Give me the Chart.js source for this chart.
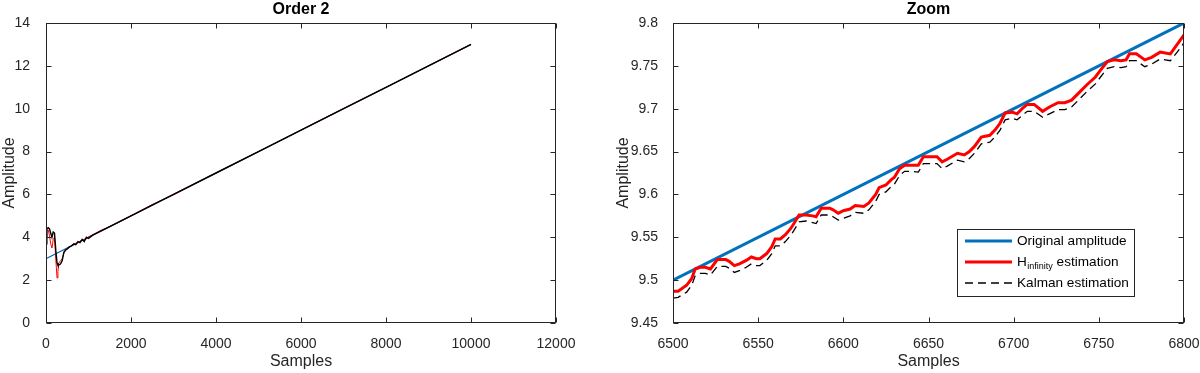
<!DOCTYPE html>
<html>
<head>
<meta charset="utf-8">
<script src="https://cdn.jsdelivr.net/npm/chart.js@4.4.1/dist/chart.umd.min.js"></script>
<style>
  html, body { margin: 0; padding: 0; background: #fff; }
  #wrap { position: relative; width: 1200px; height: 373px; }
  canvas { position: absolute; top: 0; }
</style>
</head>
<body>
<div id="wrap">
  <canvas id="left" width="600" height="373" style="left:0"></canvas>
  <canvas id="right" width="600" height="373" style="left:600px"></canvas>
</div>
<script>
// ---- data ----
const leftOrigSamples = [0, 10000];
const leftOrig = [3, 13];
const leftSamples = [0, 20, 50, 80, 110, 140, 170, 200, 230, 260, 280, 300, 340, 380, 420, 460, 500, 550, 600, 650,
  700, 750, 800, 850, 900, 950, 1000, 1100, 1300, 1500, 1800, 2000, 2500, 3000, 4000, 5000, 6000, 7000, 8000, 9000, 10000];
const leftHinf = [4.0, 4.3, 4.35, 4.1, 3.7, 3.5, 3.9, 4.0, 3.0, 2.1, 2.4, 2.8, 2.9, 3.0, 3.25, 3.4, 3.5, 3.52, 3.62, 3.7,
  3.72, 3.73, 3.82, 3.85, 3.9, 3.93, 4.02, 4.12, 4.33, 4.5, 4.78, 5.0, 5.53, 5.98, 7.0, 8.0, 9.0, 10.0, 11.0, 12.0, 13.0];
const leftKalman = [3.7, 4.4, 4.45, 4.4, 4.2, 4.0, 4.25, 4.2, 3.4, 2.8, 2.7, 2.7, 2.75, 2.9, 3.3, 3.4, 3.45, 3.55, 3.6, 3.68,
  3.65, 3.8, 3.75, 3.9, 3.8, 4.0, 3.95, 4.1, 4.3, 4.5, 4.8, 5.0, 5.5, 6.0, 7.0, 8.0, 9.0, 10.0, 11.0, 12.0, 13.0];

const zoomOrigSamples = [6500, 6800];
const zoomOrig = [9.5, 9.8];
const zoomSamples = [6500, 6503, 6508, 6511, 6513, 6516, 6519, 6522, 6526, 6531, 6533, 6536, 6539, 6543, 6546, 6549, 6551,
  6555, 6558, 6560, 6563, 6566, 6569, 6571, 6574, 6578, 6582, 6584, 6587, 6592, 6594, 6597, 6600, 6604, 6607, 6612, 6615,
  6619, 6621, 6625, 6628, 6630, 6633, 6636, 6640, 6644, 6647, 6651, 6655, 6658, 6661, 6667, 6671, 6674, 6677, 6681, 6686,
  6689, 6692, 6695, 6699, 6702, 6705, 6708, 6712, 6717, 6721, 6726, 6730, 6734, 6739, 6743, 6748, 6751, 6755, 6759, 6763,
  6766, 6768, 6772, 6777, 6781, 6786, 6789, 6792, 6796, 6800];
const zoomHinf = [9.487, 9.487, 9.494, 9.502, 9.513, 9.515, 9.515, 9.513, 9.524, 9.524, 9.522, 9.517, 9.519, 9.523, 9.527,
  9.525, 9.525, 9.531, 9.539, 9.548, 9.548, 9.553, 9.560, 9.566, 9.576, 9.576, 9.575, 9.574, 9.584, 9.584, 9.582, 9.578,
  9.581, 9.583, 9.587, 9.586, 9.590, 9.600, 9.608, 9.611, 9.617, 9.620, 9.630, 9.634, 9.634, 9.634, 9.644, 9.644, 9.644,
  9.638, 9.641, 9.648, 9.646, 9.650, 9.656, 9.667, 9.669, 9.675, 9.683, 9.695, 9.696, 9.694, 9.700, 9.705, 9.705, 9.697,
  9.702, 9.707, 9.707, 9.710, 9.720, 9.728, 9.737, 9.745, 9.755, 9.757, 9.756, 9.757, 9.764, 9.764, 9.757, 9.760, 9.766,
  9.765, 9.764, 9.775, 9.786];
const zoomKalman = [9.479, 9.480, 9.486, 9.494, 9.505, 9.508, 9.508, 9.506, 9.516, 9.516, 9.514, 9.509, 9.511, 9.515, 9.519,
  9.517, 9.517, 9.523, 9.531, 9.540, 9.540, 9.545, 9.552, 9.558, 9.568, 9.569, 9.567, 9.566, 9.576, 9.576, 9.574, 9.570,
  9.572, 9.575, 9.579, 9.578, 9.582, 9.592, 9.600, 9.603, 9.609, 9.612, 9.622, 9.627, 9.627, 9.626, 9.636, 9.636, 9.636,
  9.630, 9.633, 9.640, 9.638, 9.642, 9.648, 9.659, 9.661, 9.667, 9.675, 9.687, 9.689, 9.687, 9.692, 9.697, 9.697, 9.690,
  9.694, 9.699, 9.699, 9.702, 9.712, 9.720, 9.729, 9.737, 9.747, 9.749, 9.748, 9.749, 9.756, 9.756, 9.749, 9.752, 9.758,
  9.757, 9.756, 9.766, 9.777];

const seriesLabels = ["Original amplitude", "H_{infinity} estimation", "Kalman estimation"];

// ---- styling ----
const FONT = "'Liberation Sans', Arial, sans-serif";
const AXIS_COLOR = "#262626";
const BLUE = "#0072BD";
const RED = "#FF0000";

const pts = (xs, ys) => xs.map((x, i) => ({ x, y: ys[i] }));

// MATLAB-like box with inward ticks on all four sides
const axesBox = {
  id: "axesBox",
  afterDatasetsDraw(chart) {
    const { ctx, chartArea: a, scales } = chart;
    const L = Math.round(a.left) + 0.5, R = Math.round(a.right) - 0.5;
    const T = Math.round(a.top) + 0.5, B = Math.round(a.bottom) - 0.5;
    ctx.save();
    ctx.strokeStyle = AXIS_COLOR;
    ctx.lineWidth = 1;
    ctx.strokeRect(L, T, R - L, B - T);
    ctx.beginPath();
    scales.x.ticks.forEach((t) => {
      const px = Math.round(scales.x.getPixelForValue(t.value)) + 0.5;
      ctx.moveTo(px, B); ctx.lineTo(px, B - 5);
      ctx.moveTo(px, T); ctx.lineTo(px, T + 5);
    });
    scales.y.ticks.forEach((t) => {
      const py = Math.round(scales.y.getPixelForValue(t.value)) + 0.5;
      ctx.moveTo(L, py); ctx.lineTo(L + 5, py);
      ctx.moveTo(R, py); ctx.lineTo(R - 5, py);
    });
    ctx.stroke();
    ctx.restore();
  },
};

// legend box inside the zoom plot, with the subscript in "H infinity"
const zoomLegend = {
  id: "zoomLegend",
  afterDraw(chart) {
    const ctx = chart.ctx;
    const bx = 357.5, by = 229.5, bw = 177, bh = 67;
    const rows = [241, 262, 283];
    ctx.save();
    ctx.fillStyle = "#fff";
    ctx.fillRect(bx, by, bw, bh);
    ctx.strokeStyle = AXIS_COLOR;
    ctx.lineWidth = 1;
    ctx.strokeRect(bx, by, bw, bh);
    chart.data.datasets.forEach((ds, i) => {
      const y = rows[i];
      ctx.strokeStyle = ds.borderColor;
      ctx.lineWidth = ds.borderWidth;
      ctx.setLineDash(ds.borderDash || []);
      ctx.beginPath();
      ctx.moveTo(365, y); ctx.lineTo(412, y);
      ctx.stroke();
      ctx.setLineDash([]);
      ctx.fillStyle = "#000";
      ctx.textBaseline = "middle";
      ctx.textAlign = "left";
      const m = ds.label.match(/^(.*)_\{(.*)\}(.*)$/);
      let x = 417;
      ctx.font = "13.6px " + FONT;
      if (m) {
        ctx.fillText(m[1], x, y);
        x += ctx.measureText(m[1]).width + 0.5;
        ctx.font = "9px " + FONT;
        ctx.fillText(m[2], x, y + 5);
        x += ctx.measureText(m[2]).width;
        ctx.font = "13.6px " + FONT;
        ctx.fillText(m[3], x, y);
      } else {
        ctx.fillText(ds.label, x, y);
      }
    });
    ctx.restore();
  },
};

function axis(min, max, step, title, opts) {
  return {
    type: "linear",
    min, max,
    grid: { display: false },
    border: { display: false },
    ticks: {
      stepSize: step,
      color: AXIS_COLOR,
      padding: opts.pad,
      font: { family: FONT, size: 14 },
      callback: (v) => String(+Number(v).toFixed(2)),
    },
    title: {
      display: true,
      text: title,
      color: AXIS_COLOR,
      font: { family: FONT, size: 16 },
      padding: opts.titlePad,
    },
    afterFit: opts.fit,
  };
}

// fixed axis sizes, and no extra room for the end tick labels
const fixHeight = (h) => (s) => { s.height = h; s.paddingLeft = 0; s.paddingRight = 0; };
const fixWidth = (w) => (s) => { s.width = w; s.paddingTop = 0; s.paddingBottom = 0; };

function makeChart(id, titleText, datasets, xAx, yAx, padRight, plugins) {
  return new Chart(document.getElementById(id).getContext("2d"), {
    type: "line",
    data: { datasets },
    options: {
      responsive: false,
      animation: false,
      devicePixelRatio: 1,
      layout: { padding: { left: 0, right: padRight, top: 0, bottom: 0 } },
      elements: { point: { radius: 0 }, line: { tension: 0 } },
      scales: { x: xAx, y: yAx },
      plugins: {
        legend: { display: false },
        tooltip: { enabled: false },
        title: {
          display: true,
          text: titleText,
          fullSize: false,
          color: "#000",
          font: { family: FONT, size: 16, weight: "bold", lineHeight: 1 },
          padding: { top: 2, bottom: 5 },
        },
      },
    },
    plugins,
  });
}

makeChart(
  "left",
  "Order 2",
  [
    { label: seriesLabels[0], data: pts(leftOrigSamples, leftOrig), borderColor: BLUE, borderWidth: 1.2, order: 2 },
    { label: seriesLabels[1], data: pts(leftSamples, leftHinf), borderColor: RED, borderWidth: 1, order: 1 },
    { label: seriesLabels[2], data: pts(leftSamples, leftKalman), borderColor: "#000", borderWidth: 1.4, order: 0 },
  ],
  axis(0, 12000, 2000, "Samples", { pad: 5, titlePad: { top: 0, bottom: 2 }, fit: fixHeight(50) }),
  axis(0, 14, 2, "Amplitude", { pad: 8, titlePad: { top: 0, bottom: 0 }, fit: fixWidth(46) }),
  44,
  [axesBox]
);

makeChart(
  "right",
  "Zoom",
  [
    { label: seriesLabels[0], data: pts(zoomOrigSamples, zoomOrig), borderColor: BLUE, borderWidth: 3, order: 2 },
    { label: seriesLabels[1], data: pts(zoomSamples, zoomHinf), borderColor: RED, borderWidth: 3, order: 1 },
    { label: seriesLabels[2], data: pts(zoomSamples, zoomKalman), borderColor: "#000", borderWidth: 1.3, borderDash: [8, 5], order: 0 },
  ],
  axis(6500, 6800, 50, "Samples", { pad: 5, titlePad: { top: 0, bottom: 2 }, fit: fixHeight(50) }),
  axis(9.45, 9.8, 0.05, "Amplitude", { pad: 7, titlePad: { top: 14, bottom: 0 }, fit: fixWidth(73) }),
  16,
  [axesBox, zoomLegend]
);
</script>
</body>
</html>
